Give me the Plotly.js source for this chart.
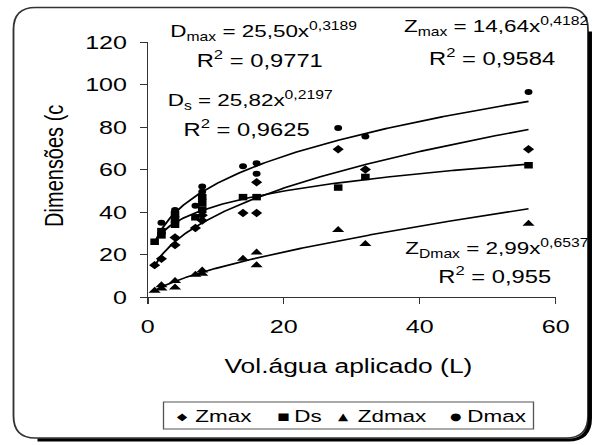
<!DOCTYPE html>
<html>
<head>
<meta charset="utf-8">
<script src="https://cdn.plot.ly/plotly-3.0.1.min.js"></script>
<style>
  html, body { margin: 0; padding: 0; background: #fff; }
  #wrap { position: relative; width: 595px; height: 445px; overflow: hidden; background: #fff; }
  /* the chart is laid out narrow and widened, giving the broad lettering of the printed figure */
  #chart { width: 451px; height: 445px; transform: scaleX(1.32); transform-origin: 0 0; }
</style>
</head>
<body>
<div id="wrap"><div id="chart"></div></div>
<script>
// Measurements per volume of applied water (L)
const seriesNames = ['Zmax', 'Ds', 'Zdmax', 'Dmax'];
const zmaxX  = [1, 2, 4, 4, 7, 8, 8, 14, 16, 16, 28, 32, 56];
const zmaxY  = [15, 18, 28, 24.5, 32.5, 38.5, 36, 39.5, 39.5, 54, 69.5, 60, 69.5];
const dsX    = [1, 2, 2, 4, 4, 4, 7, 8, 8, 8, 14, 16, 28, 32, 56];
const dsY    = [26, 29, 31, 34, 36.5, 39, 37.5, 47, 44, 41, 47, 47, 51.5, 56.5, 62];
const zdmaxX = [1, 2, 2, 4, 4, 7, 8, 8, 14, 16, 16, 28, 32, 56];
const zdmaxY = [3, 4, 5.5, 7.5, 4.5, 10.5, 12.5, 11, 18, 21, 15, 31.5, 25, 34.5];
const dmaxX  = [2, 4, 7, 8, 8, 8, 14, 16, 16, 28, 32, 56];
const dmaxY  = [35, 41, 43, 52, 49.5, 46, 61.5, 63, 58, 79.5, 75.5, 96.5];

// Power trend lines y = a * x^b, in series order
const fitA  = [14.64, 25.82, 2.99, 25.50];
const fitB  = [0.4182, 0.2197, 0.6537, 0.3189];
const fitR2 = [0.9584, 0.9625, 0.955, 0.9771];
const fitLabels = ['Z<sub>max</sub>', 'D<sub>s</sub>', 'Z<sub>Dmax</sub>', 'D<sub>max</sub>'];
const fitRange = [1, 56];

const xTicks = [0, 20, 40, 60];
const yTicks = [0, 20, 40, 60, 80, 100, 120];
const legendGlyphs = ['\u25C6', '\u25A0', '\u25B2', '\u25CF'];

// ---- layout geometry (px of the narrow chart; K widens it on screen) ----
const K = 1.32, W = 451, H = 445;
const ML = 112, MR = 30, MT = 42, MB = 148;
const PW = W - ML - MR, PH = H - MT - MB;
const px = xo => (xo / K - ML) / PW;         // screen x -> paper x
const py = yo => (MT + PH - yo) / PH;        // screen y -> paper y

const FONT = 'Arial, "Liberation Sans", Helvetica, sans-serif';
const ink = '#000';

const seriesX = [zmaxX, dsX, zdmaxX, dmaxX];
const seriesY = [zmaxY, dsY, zdmaxY, dmaxY];
const symbols = ['diamond', 'square', 'triangle-up', 'circle'];
const sizes = [6.5, 6.5, 8, 6];

const traces = [];
// trend curves
for (let i = 0; i < 4; i++) {
  const tx = [], ty = [];
  for (let x = fitRange[0]; x <= fitRange[1] + 1e-9; x += 0.25) {
    tx.push(x);
    ty.push(fitA[i] * Math.pow(x, fitB[i]));
  }
  traces.push({
    x: tx, y: ty, type: 'scatter', mode: 'lines',
    line: { color: ink, width: 1.6 }, showlegend: false, hoverinfo: 'skip'
  });
}
// observations
for (let i = 0; i < 4; i++) {
  traces.push({
    x: seriesX[i], y: seriesY[i], name: seriesNames[i],
    type: 'scatter', mode: 'markers', cliponaxis: false,
    marker: { symbol: symbols[i], size: sizes[i], color: ink },
    showlegend: false
  });
}

const comma = s => String(s).replace('.', ',');
const eqText = i => fitLabels[i] + ' = ' + comma(fitA[i].toFixed(2)) + 'x<sup>' + comma(fitB[i]) + '</sup>';
const r2Text = i => 'R<sup>2</sup> = ' + comma(fitR2[i]);

// equation placement: [eq left x, eq y, R² centre x, R² y] in screen px
const eqPos = [
  [401, 27, 492, 57],
  [165, 100, 247, 128],
  [403, 248, 495, 275],
  [168, 32, 260, 60]
];

const annotations = [];
for (let i = 0; i < 4; i++) {
  const p = eqPos[i];
  annotations.push({
    xref: 'paper', yref: 'paper', x: px(p[0]), y: py(p[1]),
    xanchor: 'left', yanchor: 'middle', showarrow: false,
    text: eqText(i), font: { family: FONT, size: 17, color: ink }
  });
  annotations.push({
    xref: 'paper', yref: 'paper', x: px(p[2]), y: py(p[3]),
    xanchor: 'center', yanchor: 'middle', showarrow: false,
    text: r2Text(i), font: { family: FONT, size: 18, color: ink }
  });
}

// axis titles
annotations.push({
  xref: 'paper', yref: 'paper', x: px(349), y: py(366),
  xanchor: 'center', yanchor: 'middle', showarrow: false,
  text: 'Vol.água aplicado (L)', font: { family: FONT, size: 20, color: ink }
});
annotations.push({
  xref: 'paper', yref: 'paper', x: px(54), y: py(166),
  xanchor: 'center', yanchor: 'middle', showarrow: false, textangle: -90,
  text: 'Dimensões (c', font: { family: FONT, size: 20, color: ink }
});

// legend entries: glyph centre and label left edge (screen px)
const legendPos = [[182, 193], [283, 292], [343, 355], [456, 465]];
for (let i = 0; i < 4; i++) {
  annotations.push({
    xref: 'paper', yref: 'paper', x: px(legendPos[i][0]), y: py(416),
    xanchor: 'center', yanchor: 'middle', showarrow: false,
    text: legendGlyphs[i], font: { family: 'DejaVu Sans, sans-serif', size: 10, color: ink }
  });
  annotations.push({
    xref: 'paper', yref: 'paper', x: px(legendPos[i][1]), y: py(416),
    xanchor: 'left', yanchor: 'middle', showarrow: false,
    text: seriesNames[i], font: { family: FONT, size: 17, color: ink }
  });
}

// rounded outer frame and its drop shadow
const fx0 = 13.5, fy0 = 7.5, fx1 = 588, fy1 = 438, fr = 22;
const P = (x, y) => px(x) + ',' + py(y);
const framePath =
  'M' + P(fx0 + fr, fy0) + ' L' + P(fx1 - fr, fy0) + ' Q' + P(fx1, fy0) + ' ' + P(fx1, fy0 + fr) +
  ' L' + P(fx1, fy1 - fr) + ' Q' + P(fx1, fy1) + ' ' + P(fx1 - fr, fy1) +
  ' L' + P(fx0 + fr, fy1) + ' Q' + P(fx0, fy1) + ' ' + P(fx0, fy1 - fr) +
  ' L' + P(fx0, fy0 + fr) + ' Q' + P(fx0, fy0) + ' ' + P(fx0 + fr, fy0) + ' Z';
const so = 2;
const shadowPath =
  'M' + P(fx1 + so, fy0 + fr + so) + ' L' + P(fx1 + so, fy1 - fr + so) +
  ' Q' + P(fx1 + so, fy1 + so) + ' ' + P(fx1 - fr + so, fy1 + so) +
  ' L' + P(fx0 + fr + so, fy1 + so);

const shapes = [
  { type: 'path', xref: 'paper', yref: 'paper', path: framePath, line: { color: '#333', width: 1.4 }, layer: 'below' },
  { type: 'path', xref: 'paper', yref: 'paper', path: shadowPath, line: { color: '#000', width: 3 }, layer: 'below' },
  { type: 'rect', xref: 'paper', yref: 'paper', x0: px(163.5), x1: px(533.5), y0: py(429), y1: py(402),
    line: { color: '#555', width: 1 }, fillcolor: 'rgba(0,0,0,0)', layer: 'below' }
];

const axisCommon = {
  showgrid: false, zeroline: false, showline: true, linecolor: '#333', linewidth: 1,
  ticks: 'outside', tickcolor: '#333', tickwidth: 1,
  tickfont: { family: FONT, size: 19, color: ink }, fixedrange: true
};

const layout = {
  width: W, height: H,
  margin: { l: ML, r: MR, t: MT, b: MB, pad: 0 },
  paper_bgcolor: 'rgba(0,0,0,0)', plot_bgcolor: 'rgba(0,0,0,0)',
  showlegend: false,
  xaxis: Object.assign({}, axisCommon, { range: [0, 60], tickvals: xTicks, ticklen: 6, ticklabelstandoff: 6 }),
  yaxis: Object.assign({}, axisCommon, { range: [0, 120], tickvals: yTicks, ticklen: 5, ticklabelstandoff: 6 }),
  annotations: annotations,
  shapes: shapes,
  font: { family: FONT, color: ink }
};

Plotly.newPlot('chart', traces, layout, { staticPlot: true, displayModeBar: false });
</script>
</body>
</html>
